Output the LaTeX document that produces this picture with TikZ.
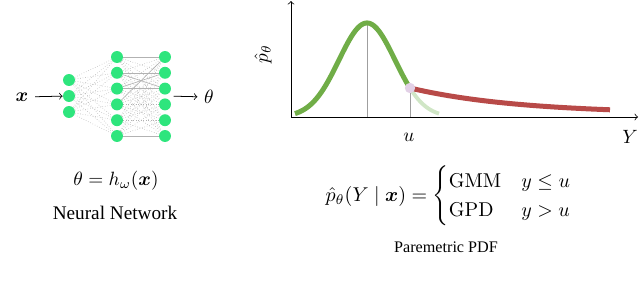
\documentclass[tikz,border=0pt]{standalone}
\usepackage{amsmath}
\usepackage[no-math]{fontspec}
\setmainfont{Liberation Serif}

\definecolor{neurongreen}{RGB}{46,229,125}
\definecolor{gmmgreen}{RGB}{112,173,71}
\definecolor{gmmlight}{RGB}{208,230,198}
\definecolor{gpdred}{RGB}{184,74,72}
\definecolor{joinpink}{RGB}{226,208,230}

\begin{document}
\begin{tikzpicture}[x=0.52pt, y=-0.52pt,
  neuron/.style={circle, fill=neurongreen, minimum size=6.2pt, inner sep=0pt},
  weight/.style={densely dotted, gray!60, line width=0.3pt},
  strong/.style={gray!60, line width=0.3pt}]

\useasboundingbox (0,0) rectangle (640,284);

\def\u{410}
\def\mode{367}

% neural network
\foreach \i/\y in {1/80,2/96,3/112}
  \node[neuron] (i\i) at (69,\y) {};
\foreach \i/\y in {1/57,2/72.8,3/88.6,4/104.4,5/120.2,6/136}
{
  \node[neuron] (h\i) at (117,\y) {};
  \node[neuron] (o\i) at (165,\y) {};
}

\foreach \a in {1,2,3}
  \foreach \b in {1,...,6}
    \draw[weight] (i\a) -- (h\b);
\foreach \a in {1,...,6}
  \foreach \b in {1,...,6}
    \draw[weight] (h\a) -- (o\b);
\foreach \a/\b in {1/1,2/2,3/3,6/6,2/3,3/2,4/1}
  \draw[strong] (h\a) -- (o\b);

\node (xin) at (22,97) {$\boldsymbol{x}$};
\node (theta) at (209,97) {$\theta$};
\coordinate (oc) at (165,96);
\draw[->] (xin) -- (i2);
\draw[->, shorten <=4.5pt] (oc) -- (theta);

\node (hw) at (116,181) {$\theta = h_\omega(\boldsymbol{x})$};
\node (nn) at (115,213) {Neural Network};

% density plot
\coordinate (origin) at (291,117);
\coordinate (ytop) at (291,1);
\coordinate (xend) at (638,117);
\draw[->] (origin) -- (ytop);
\draw[->] (origin) -- (xend);

\draw[gray!75, line width=0.5pt] (\mode,23) -- (\mode,117);
\draw[gray!75, line width=0.5pt] (\u,88) -- (\u,117);

\draw[gmmlight, line width=2pt, domain=\u:439, samples=40]
  plot (\x, {117 - 94*exp(-((\x-\mode)^2)/1568)});
\draw[gmmgreen, line width=2.6pt, domain=295:\u, samples=120]
  plot (\x, {117 - 94*exp(-((\x-\mode)^2)/1568)});
\draw[gpdred, line width=2.6pt, domain=\u:610, samples=120]
  plot (\x, {116 - (2 + 26*exp(-(\x-\u)/110))});

\node[circle, fill=joinpink, minimum size=5.4pt, inner sep=0pt] (join) at (\u,88) {};

\node[rotate=90] (pl) at (263,54) {$\hat{p}_\theta$};
\node (ul) at (409,137) {$u$};
\node (yl) at (630,137) {$Y$};

\node[scale=1.04] (pdf) at (449,196)
  {$\hat{p}_\theta(Y \mid \boldsymbol{x}) = \begin{cases}\mathrm{GMM} & y \leq u\\ \mathrm{GPD} & y > u\end{cases}$};
\node[font=\fontsize{8.4}{10}\selectfont] (pp) at (446,247) {Paremetric PDF};

\end{tikzpicture}
\end{document}
